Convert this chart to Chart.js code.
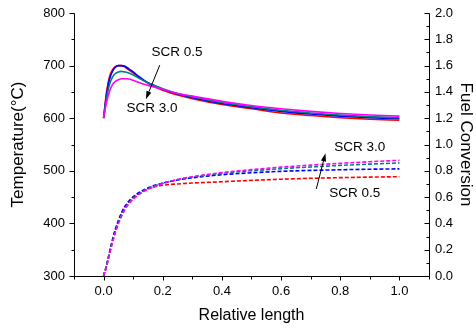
<!DOCTYPE html>
<html>
<head>
<meta charset="utf-8">
<script src="https://cdn.jsdelivr.net/npm/chart.js@4"></script>
<style>
  html, body { margin: 0; padding: 0; background: #fff; }
</style>
</head>
<body>
<canvas id="chartTemp" width="476" height="330"></canvas>
<script>
// relative length positions along the reactor
const xs = [0, 0.01, 0.02, 0.03, 0.04, 0.05, 0.06, 0.07, 0.08, 0.09, 0.1, 0.12, 0.14, 0.16,
            0.2, 0.25, 0.3, 0.4, 0.5, 0.6, 0.7, 0.8, 0.9, 1.0];

// temperature (C), solid lines
const tempScr05 = [600, 650, 679, 692, 698, 700, 700, 698, 694, 690, 686, 678, 670, 663,
                   653, 644, 637, 626, 618, 610, 605, 601, 598, 596];
const tempScr10 = [600, 645, 674, 689, 697, 700, 700, 699, 696, 692, 688, 679, 671, 665,
                   655, 646, 639, 628, 620, 613, 608, 604, 601, 599];
const tempScr20 = [600, 638, 664, 678, 685, 688, 689, 688, 687, 685, 682, 676, 670, 665,
                   656, 647, 641, 630, 622, 615, 610, 606, 603, 601];
const tempScr30 = [600, 630, 651, 664, 670, 673, 675, 675, 675, 674, 672, 668, 664, 661,
                   655, 647, 642, 632, 624, 618, 613, 609, 606, 604];

// fuel conversion, dashed lines
const convScr05 = [0, 0.08, 0.18, 0.275, 0.355, 0.42, 0.475, 0.52, 0.553, 0.58, 0.6, 0.632, 0.655, 0.671,
                   0.69, 0.70, 0.707, 0.717, 0.727, 0.736, 0.743, 0.748, 0.752, 0.755];
const convScr10 = [0, 0.08, 0.18, 0.275, 0.355, 0.42, 0.475, 0.52, 0.553, 0.58, 0.601, 0.635, 0.66, 0.679,
                   0.706, 0.73, 0.747, 0.77, 0.785, 0.796, 0.803, 0.808, 0.812, 0.815];
const convScr20 = [0, 0.075, 0.17, 0.262, 0.34, 0.405, 0.46, 0.505, 0.54, 0.567, 0.59, 0.625, 0.652, 0.673,
                   0.705, 0.733, 0.752, 0.78, 0.8, 0.816, 0.829, 0.841, 0.851, 0.86];
const convScr30 = [0, 0.07, 0.162, 0.252, 0.33, 0.395, 0.45, 0.495, 0.532, 0.56, 0.584, 0.62, 0.648, 0.669,
                   0.704, 0.734, 0.755, 0.786, 0.809, 0.828, 0.843, 0.857, 0.869, 0.88];

const seriesNames = ['SCR 0.5', 'SCR 1.0', 'SCR 2.0', 'SCR 3.0'];
const xTicks = [0, 0.2, 0.4, 0.6, 0.8, 1.0];
const tempTicks = [300, 400, 500, 600, 700, 800];
const convTicks = [0, 0.2, 0.4, 0.6, 0.8, 1.0, 1.2, 1.4, 1.6, 1.8, 2.0];

const colors = ['#ff0000', '#0000ff', '#008080', '#ff00ff'];
const FONT = 'Liberation Sans, Arial, sans-serif';

const pts = (ys) => xs.map((x, i) => ({x: x, y: ys[i]}));

const temps = [tempScr05, tempScr10, tempScr20, tempScr30];
const convs = [convScr05, convScr10, convScr20, convScr30];

const datasets = [];
temps.forEach((t, i) => datasets.push({
  label: seriesNames[i] + ' T', data: pts(t), yAxisID: 'yT',
  borderColor: colors[i], borderWidth: 1.6, pointRadius: 0,
  cubicInterpolationMode: 'monotone', order: 4 - i
}));
convs.forEach((c, i) => datasets.push({
  label: seriesNames[i] + ' X', data: pts(c), yAxisID: 'yC',
  borderColor: colors[i], borderWidth: 1.6, borderDash: [4, 2], pointRadius: 0,
  cubicInterpolationMode: 'monotone', order: 4 - i
}));

// text and arrows, placed in data units
const notes = [
  {text: 'SCR 0.5', x: 0.248, y: 725, axis: 'yT'},
  {text: 'SCR 3.0', x: 0.164, y: 619, axis: 'yT'},
  {text: 'SCR 3.0', x: 0.866, y: 0.981, axis: 'yC'},
  {text: 'SCR 0.5', x: 0.849, y: 0.631, axis: 'yC'}
];
const arrows = [
  {x0: 0.19, y0: 701, x1: 0.143, y1: 636, axis: 'yT'},
  {x0: 0.719, y0: 0.662, x1: 0.750, y1: 0.933, axis: 'yC'}
];

const minorOf = (min, max, step, majors) => {
  const out = [];
  for (let k = Math.round(min / step); k * step <= max + 1e-9; k++) {
    const v = +(k * step).toFixed(6);
    if (!majors.some(m => Math.abs(m - v) < 1e-9)) out.push(v);
  }
  return out;
};

const framePlugin = {
  id: 'frame',
  afterDatasetsDraw(chart) {
    const {ctx, chartArea: a, scales} = chart;
    const L = Math.round(a.left) + 0.5, R = Math.round(a.right) + 0.5;
    const T = Math.round(a.top) + 0.5, B = Math.round(a.bottom) + 0.5;
    ctx.save();
    ctx.strokeStyle = '#000';
    ctx.lineWidth = 1;
    ctx.beginPath();
    ctx.moveTo(L, T); ctx.lineTo(L, B); ctx.lineTo(R, B); ctx.lineTo(R, T);
    // bottom ticks, outward
    xTicks.forEach(v => { const p = Math.round(scales.x.getPixelForValue(v)) + 0.5; ctx.moveTo(p, B); ctx.lineTo(p, B + 4); });
    minorOf(-0.1, 1.1, 0.1, xTicks).forEach(v => { const p = Math.round(scales.x.getPixelForValue(v)) + 0.5; ctx.moveTo(p, B); ctx.lineTo(p, B + 3); });
    // left ticks, outward
    tempTicks.forEach(v => { const p = Math.round(scales.yT.getPixelForValue(v)) + 0.5; ctx.moveTo(L, p); ctx.lineTo(L - 5, p); });
    minorOf(300, 800, 50, tempTicks).forEach(v => { const p = Math.round(scales.yT.getPixelForValue(v)) + 0.5; ctx.moveTo(L, p); ctx.lineTo(L - 3, p); });
    // right ticks, inward
    convTicks.forEach(v => { const p = Math.round(scales.yC.getPixelForValue(v)) + 0.5; ctx.moveTo(R, p); ctx.lineTo(R - 5, p); });
    minorOf(0, 2, 0.1, convTicks).forEach(v => { const p = Math.round(scales.yC.getPixelForValue(v)) + 0.5; ctx.moveTo(R, p); ctx.lineTo(R - 3, p); });
    ctx.stroke();

    // arrows
    arrows.forEach(ar => {
      const x0 = scales.x.getPixelForValue(ar.x0), y0 = scales[ar.axis].getPixelForValue(ar.y0);
      const x1 = scales.x.getPixelForValue(ar.x1), y1 = scales[ar.axis].getPixelForValue(ar.y1);
      const ang = Math.atan2(y1 - y0, x1 - x0);
      const hl = 8, hw = 2.6;
      const bx = x1 - hl * Math.cos(ang), by = y1 - hl * Math.sin(ang);
      ctx.beginPath();
      ctx.moveTo(x0, y0); ctx.lineTo(bx, by);
      ctx.stroke();
      ctx.beginPath();
      ctx.moveTo(x1, y1);
      ctx.lineTo(bx + hw * Math.sin(ang), by - hw * Math.cos(ang));
      ctx.lineTo(bx - hw * Math.sin(ang), by + hw * Math.cos(ang));
      ctx.closePath();
      ctx.fillStyle = '#000';
      ctx.fill();
    });

    // labels
    ctx.fillStyle = '#000';
    ctx.font = '13.5px ' + FONT;
    ctx.textAlign = 'center';
    ctx.textBaseline = 'middle';
    notes.forEach(n => {
      ctx.fillText(n.text, scales.x.getPixelForValue(n.x), scales[n.axis].getPixelForValue(n.y));
    });
    ctx.restore();
  }
};

const setTicks = (vals) => (s) => { s.ticks = vals.map(v => ({value: v})); };
// fixed box sizes so the plot area sits where the original one does
const fixWidth = (w) => (s) => { s.width = w; s.paddingTop = 0; s.paddingBottom = 0; };
const fixHeight = (h) => (s) => { s.height = h; s.paddingLeft = 0; s.paddingRight = 0; };

new Chart(document.getElementById('chartTemp'), {
  type: 'line',
  data: {datasets: datasets},
  plugins: [framePlugin],
  options: {
    responsive: false,
    animation: false,
    devicePixelRatio: 1,
    layout: {padding: {top: 13, left: 0, right: 0, bottom: 0}},
    plugins: {legend: {display: false}, tooltip: {enabled: false}},
    scales: {
      x: {
        type: 'linear', min: -0.1, max: 1.1,
        afterBuildTicks: setTicks(xTicks),
        afterFit: fixHeight(54),
        grid: {display: false, drawTicks: false},
        border: {display: false},
        ticks: {padding: 8, color: '#000', font: {family: FONT, size: 13},
                callback: (v) => v.toFixed(1), maxRotation: 0},
        title: {display: true, text: 'Relative length', color: '#000',
                font: {family: FONT, size: 16}, padding: {top: 0, bottom: 5}}
      },
      yT: {
        type: 'linear', position: 'left', min: 300, max: 800,
        afterBuildTicks: setTicks(tempTicks),
        afterFit: fixWidth(74),
        grid: {display: false, drawTicks: false},
        border: {display: false},
        ticks: {padding: 9, color: '#000', font: {family: FONT, size: 13}},
        title: {display: true, text: 'Temperature(°C)', color: '#000',
                font: {family: FONT, size: 17}, padding: {top: 8, bottom: 0}}
      },
      yC: {
        type: 'linear', position: 'right', min: 0, max: 2,
        afterBuildTicks: setTicks(convTicks),
        afterFit: fixWidth(47),
        grid: {display: false, drawTicks: false},
        border: {display: false},
        ticks: {padding: 6, color: '#000', font: {family: FONT, size: 13},
                callback: (v) => v.toFixed(1)},
        title: {display: true, text: 'Fuel Conversion', color: '#000',
                font: {family: FONT, size: 17}, padding: {top: 0, bottom: 0}}
      }
    }
  }
});
</script>
</body>
</html>
